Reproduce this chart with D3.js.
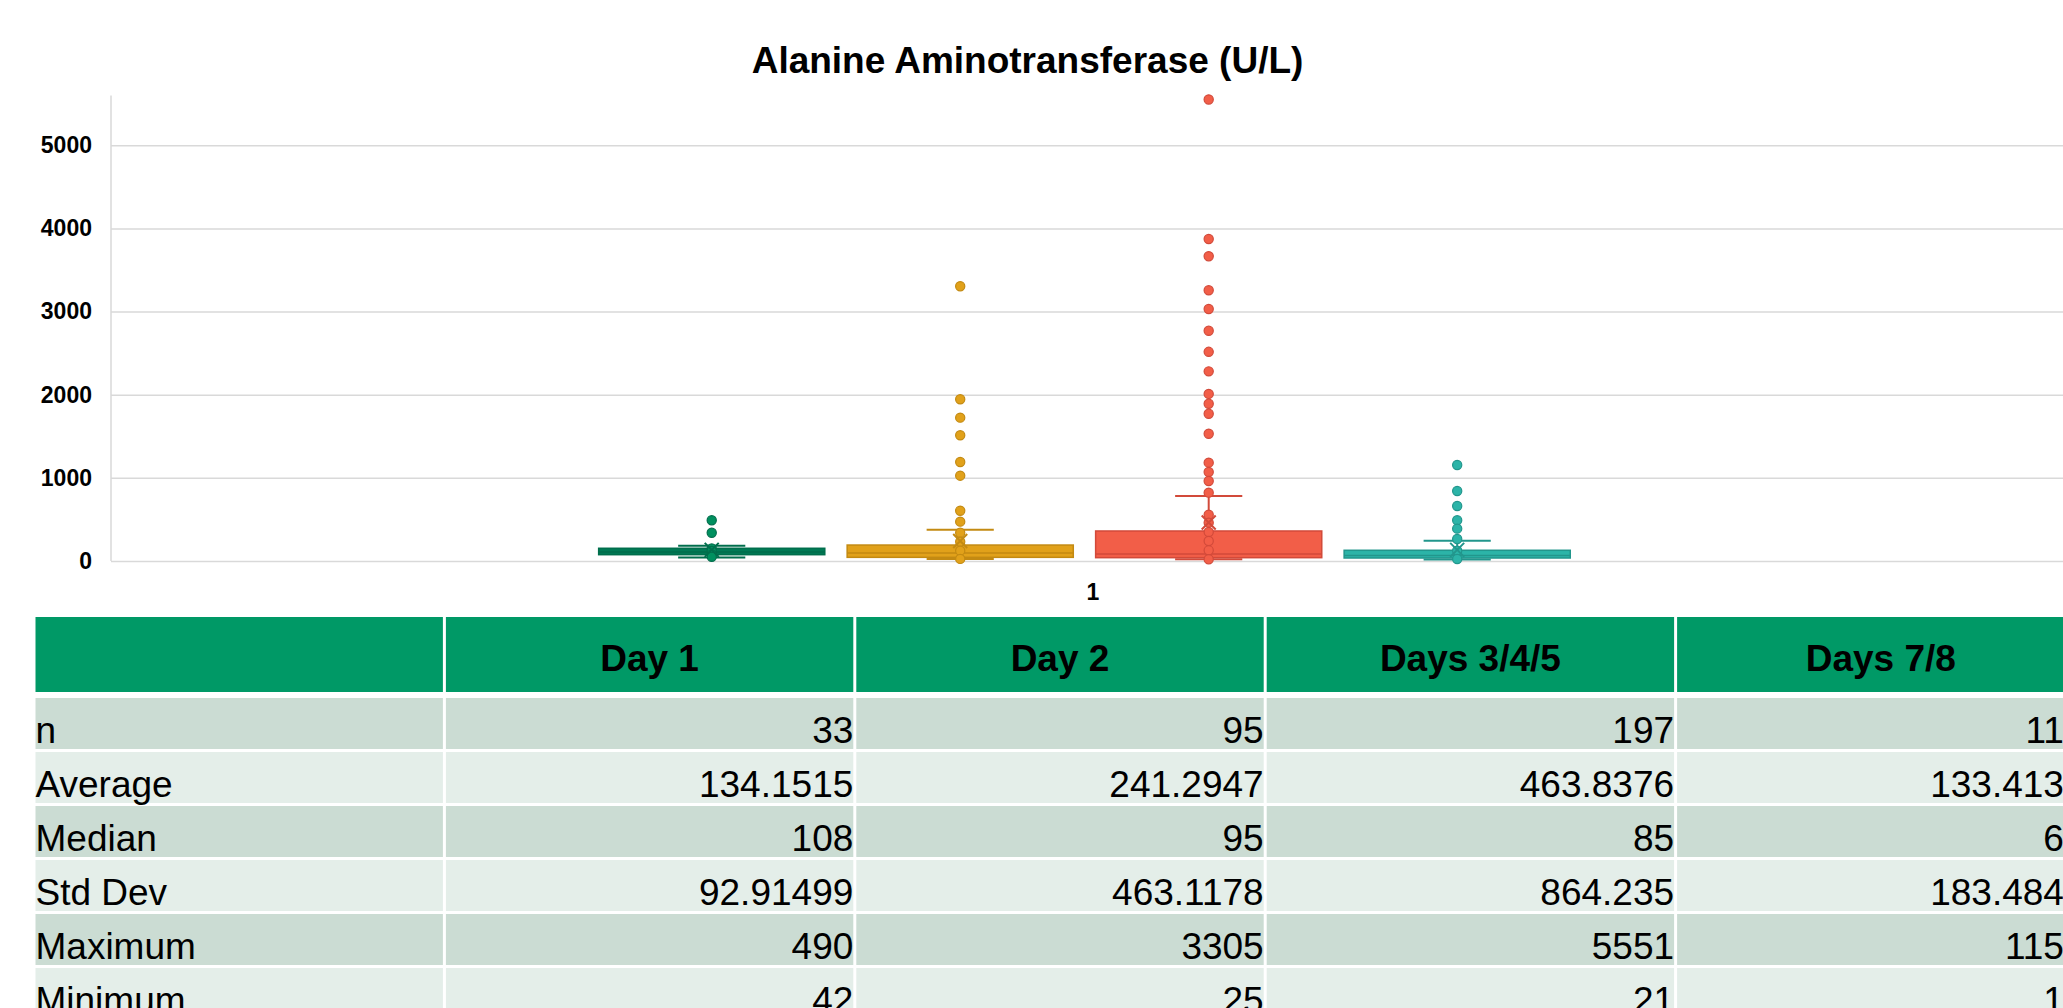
<!DOCTYPE html>
<html>
<head>
<meta charset="utf-8">
<script src="https://cdn.jsdelivr.net/npm/d3@7"></script>
<style>
  html, body { margin: 0; padding: 0; background: #ffffff; overflow: hidden; }
  svg { display: block; font-family: "Liberation Sans", Arial, sans-serif; }
</style>
</head>
<body>
<svg id="chart" width="2063" height="1008"></svg>
<script>
// ---- data ----
const chartTitle = "Alanine Aminotransferase (U/L)";
const categories = ["1"];
const seriesNames = ["Day 1", "Day 2", "Days 3/4/5", "Days 7/8"];
const yTicks = [0, 1000, 2000, 3000, 4000, 5000];

// summary statistics per series
const nValues      = [33, 95, 197, 119];
const meanValues   = [134.1515, 241.2947, 463.8376, 133.4134];
const medianValues = [108, 95, 85, 66];
const sdValues     = [92.91499, 463.1178, 864.235, 183.4842];
const maxValues    = [490, 3305, 5551, 1155];
const minValues    = [42, 25, 21, 18];

// quartiles and upper whisker ends
const q1Values        = [76, 44, 40, 36];
const q3Values        = [153, 192, 361, 129];
const upperWhiskers   = [184, 377, 782, 244];

// individual points shown for each series
const day1Points   = [490, 340, 150, 120, 80, 50];
const day2Points   = [3305, 1945, 1724, 1512, 1191, 1026, 605, 473, 340, 232, 124, 25];
const day345Points = [5551, 3873, 3666, 3256, 3031, 2769, 2516, 2281, 2010, 1891, 1771, 1531,
                      1183, 1070, 962, 822, 557, 461, 349, 241, 128, 21];
const day78Points  = [1155, 842, 662, 490, 389, 265, 124, 24];

const rowLabels = ["n", "Average", "Median", "Std Dev", "Maximum", "Minimum"];

// ---- styles ----
const fillColors   = ["#007a55", "#e1a11a", "#f25e48", "#2cb4a8"];
const strokeColors = ["#006e4c", "#c38a12", "#d24a3a", "#22968c"];
const pointColors  = ["#00905f", "#e1a11a", "#f25e48", "#2cb4a8"];
const headerFill = "#009966";
const rowFills = ["#cbdcd3", "#e4eee9"];

const svg = d3.select("#chart");

// ---- chart ----
const plot = { left: 111, right: 2075, top: 95.4, bottom: 561 };

const y = d3.scaleLinear().domain([0, 5600]).range([plot.bottom, plot.top]);
const xCat = d3.scaleBand().domain(categories).range([plot.left, plot.right]);

const groupStart = 0.2483, groupEnd = 0.7430;
const xSeries = d3.scaleBand()
  .domain(seriesNames)
  .range([xCat(categories[0]) + xCat.bandwidth() * groupStart,
          xCat(categories[0]) + xCat.bandwidth() * groupEnd])
  .paddingInner(0.09)
  .paddingOuter(0);

// title
svg.append("text")
  .attr("x", 1027.5).attr("y", 73)
  .attr("text-anchor", "middle")
  .attr("font-size", 37).attr("font-weight", "bold")
  .attr("fill", "#000")
  .text(chartTitle);

// y axis with gridlines
const yAxis = svg.append("g")
  .attr("transform", `translate(${plot.left},0)`)
  .call(d3.axisLeft(y).tickValues(yTicks).tickSize(-(plot.right - plot.left)).tickPadding(19).tickFormat(d3.format("d")));
yAxis.select(".domain").remove();
yAxis.selectAll(".tick line").attr("stroke", "#d9d9d9").attr("stroke-width", 1.5);
yAxis.selectAll(".tick text")
  .attr("font-size", 23).attr("font-weight", "bold")
  .attr("font-family", "'Liberation Sans', Arial, sans-serif")
  .attr("fill", "#000");

// vertical axis line
svg.append("line")
  .attr("x1", plot.left).attr("x2", plot.left)
  .attr("y1", plot.top).attr("y2", plot.bottom)
  .attr("stroke", "#d9d9d9").attr("stroke-width", 1.5);

// category label
svg.append("text")
  .attr("x", xCat(categories[0]) + xCat.bandwidth() / 2)
  .attr("y", 600)
  .attr("text-anchor", "middle")
  .attr("font-size", 23).attr("font-weight", "bold")
  .attr("fill", "#000")
  .text(categories[0]);

const pointSets = [day1Points, day2Points, day345Points, day78Points];
const capRatio = 0.297;

seriesNames.forEach((name, i) => {
  const g = svg.append("g").attr("class", "box");
  const x0 = xSeries(name);
  const w = xSeries.bandwidth();
  const cx = x0 + w / 2;
  const capHalf = w * capRatio / 2;

  // box
  g.append("rect")
    .attr("x", x0).attr("width", w)
    .attr("y", y(q3Values[i])).attr("height", y(q1Values[i]) - y(q3Values[i]))
    .attr("fill", fillColors[i])
    .attr("stroke", strokeColors[i]).attr("stroke-width", 1.5);

  // median line
  g.append("line")
    .attr("x1", x0).attr("x2", x0 + w)
    .attr("y1", y(medianValues[i])).attr("y2", y(medianValues[i]))
    .attr("stroke", strokeColors[i]).attr("stroke-width", 1.5);

  // whiskers
  const whisk = [[q3Values[i], upperWhiskers[i]], [q1Values[i], minValues[i]]];
  whisk.forEach(([from, to]) => {
    g.append("line")
      .attr("x1", cx).attr("x2", cx)
      .attr("y1", y(from)).attr("y2", y(to))
      .attr("stroke", strokeColors[i]).attr("stroke-width", 2);
    g.append("line")
      .attr("x1", cx - capHalf).attr("x2", cx + capHalf)
      .attr("y1", y(to)).attr("y2", y(to))
      .attr("stroke", strokeColors[i]).attr("stroke-width", 2);
  });

  // points
  g.selectAll("circle")
    .data(pointSets[i])
    .join("circle")
    .attr("cx", cx)
    .attr("cy", d => y(d))
    .attr("r", 4.6)
    .attr("fill", pointColors[i])
    .attr("stroke", strokeColors[i])
    .attr("stroke-width", 1.2);

  // mean marker (x)
  const my = y(meanValues[i]);
  const s = 7;
  g.append("path")
    .attr("d", `M${cx - s},${my - s}L${cx + s},${my + s}M${cx - s},${my + s}L${cx + s},${my - s}`)
    .attr("stroke", strokeColors[i]).attr("stroke-width", 2).attr("fill", "none");
});

// ---- statistics table ----
const columns = ["", ...seriesNames];
const colStats = [nValues, meanValues, medianValues, sdValues, maxValues, minValues];

const colX = d3.scaleBand()
  .domain(columns)
  .range([35.5, 35.5 + 5 * 410.4 - 3])
  .paddingInner(3 / 410.4)
  .paddingOuter(0);

const rowY = d3.scaleBand()
  .domain(rowLabels)
  .range([698, 698 + 6 * 54 - 3])
  .paddingInner(3 / 54)
  .paddingOuter(0);

const headerTop = 617, headerBottom = 692;
const table = svg.append("g").attr("class", "table");

// header row
columns.forEach(col => {
  table.append("rect")
    .attr("x", colX(col)).attr("width", colX.bandwidth())
    .attr("y", headerTop).attr("height", headerBottom - headerTop)
    .attr("fill", headerFill);
  if (col) {
    table.append("text")
      .attr("x", colX(col) + colX.bandwidth() / 2)
      .attr("y", headerTop + 53.7)
      .attr("text-anchor", "middle")
      .attr("font-size", 37).attr("font-weight", "bold")
      .attr("fill", "#000")
      .text(col);
  }
});

// body rows
rowLabels.forEach((label, r) => {
  const top = rowY(label);
  const h = rowY.bandwidth();
  columns.forEach((col, c) => {
    table.append("rect")
      .attr("x", colX(col)).attr("width", colX.bandwidth())
      .attr("y", top).attr("height", h)
      .attr("fill", rowFills[r % 2]);
  });
  table.append("text")
    .attr("x", colX(""))
    .attr("y", top + h - 6)
    .attr("font-size", 37).attr("fill", "#000")
    .text(label);
  seriesNames.forEach((name, c) => {
    table.append("text")
      .attr("x", colX(name) + colX.bandwidth())
      .attr("y", top + h - 6)
      .attr("text-anchor", "end")
      .attr("font-size", 37).attr("fill", "#000")
      .text(String(colStats[r][c]));
  });
});
</script>
</body>
</html>
